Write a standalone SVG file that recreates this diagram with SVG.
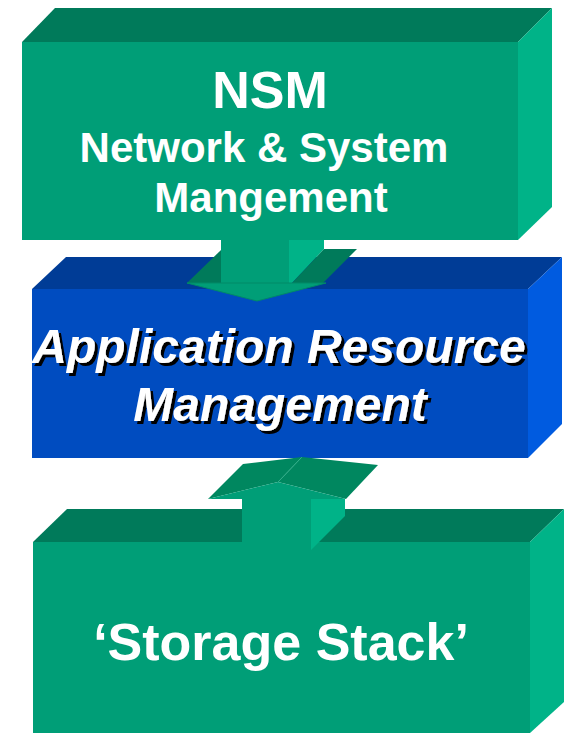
<svg xmlns="http://www.w3.org/2000/svg" width="564" height="733" viewBox="0 0 564 733">
<defs>
<style>
.gf{fill:#009E77}.gt{fill:#007A5A}.gr{fill:#00B388}
.bf{fill:#004CC0}.bt{fill:#003C96}.br{fill:#005BE0}
.ah{fill:#00875F}
.t{font-family:"Liberation Sans",Arial,sans-serif;font-weight:bold;fill:#fff;text-anchor:middle}
.ti{font-family:"Liberation Sans",Arial,sans-serif;font-weight:bold;font-style:italic;fill:#fff;text-anchor:middle;filter:url(#shadow)}
</style>
<filter id="shadow" x="-5%" y="-20%" width="110%" height="140%">
<feOffset in="SourceAlpha" dx="3" dy="3" result="o"/>
<feFlood flood-color="#000"/>
<feComposite operator="in" in2="o" result="s"/>
<feMerge><feMergeNode in="s"/><feMergeNode in="SourceGraphic"/></feMerge>
</filter>
</defs>
<rect width="564" height="733" fill="#fff"/>
<g id="nsm">
<polygon class="gt" points="22,42 55,8 552,8 518,42"/>
<polygon class="gr" points="518,42 552,8 552,207 518,240"/>
<rect class="gf" x="22" y="42" width="496" height="198"/>
<text class="t" x="270" y="108" font-size="52">NSM</text>
<text class="t" x="264" y="162" font-size="42">Network &amp; System</text>
<text class="t" x="271" y="212" font-size="42">Mangement</text>
</g>
<g id="arm">
<polygon class="bt" points="32,289 66,257 562,257 528,289"/>
<polygon class="br" points="528,289 562,257 562,424 528,458"/>
<rect class="bf" x="32" y="289" width="496" height="169"/>
</g>
<g id="storage">
<polygon class="gt" points="33,542 67,509 564,509 530,542"/>
<polygon class="gr" points="530,542 564,509 564,702 530,733"/>
<rect class="gf" x="33" y="542" width="497" height="191"/>
<text class="t" x="281" y="660" font-size="52">‘Storage Stack’</text>
</g>
<g id="connectors">
<g id="down-arrow">
<rect class="gf" x="221" y="240" width="68" height="43"/>
<polygon class="gr" points="289,240 324,240 324,249 292,283 289,283"/>
<polygon class="gt" points="187,283 221,250 221,283"/>
<polygon class="gt" points="292,283 323,283 357,249 324,249"/>
<polygon class="gf" points="187,283 326,283 257,301" stroke="#008A68" stroke-width="1"/>
</g>
<g id="up-arrow">
<polygon class="ah" points="208,499 243,464 302,457 278,482"/>
<polygon class="ah" points="278,482 302,457 378,465 346,499"/>
<line x1="278" y1="482" x2="302" y2="457" stroke="#2FB08A" stroke-width="0.8"/>
<polygon class="gf" points="208,499 278,482 346,499"/>
<rect class="gf" x="242" y="499" width="69" height="51"/>
<polygon class="gr" points="311,499 345,499 345,516 311,550"/>
</g>
</g>
<g id="arm-text">
<text class="ti" x="279" y="363" font-size="48">Application Resource</text>
<text class="ti" x="280" y="421" font-size="48">Management</text>
</g>
</svg>
